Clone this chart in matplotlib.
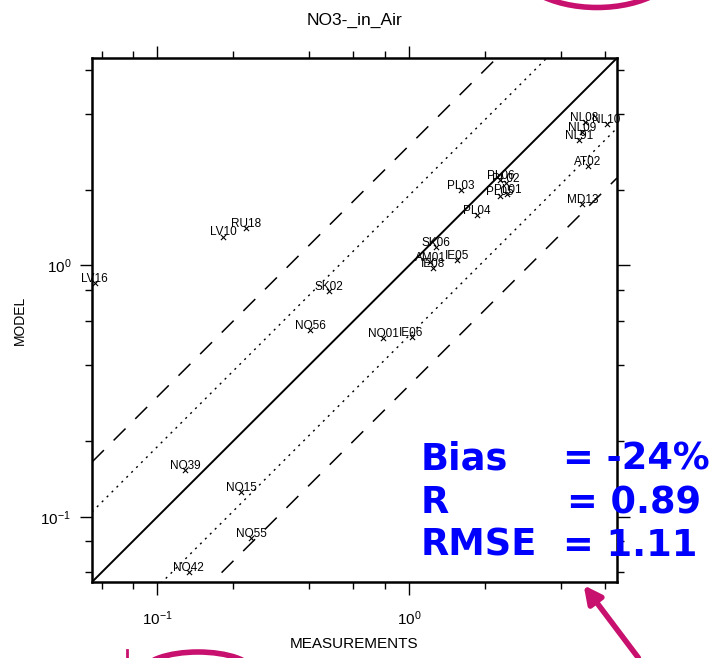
# NO3- in air: model vs measurements scatter (log-log) with factor lines
import numpy as np
import matplotlib.pyplot as plt
from matplotlib.patches import Arc, FancyArrowPatch
from matplotlib.ticker import LogLocator, NullFormatter

plt.rcParams["font.family"] = ["Liberation Sans", "DejaVu Sans"]
plt.rcParams["mathtext.fontset"] = "custom"
plt.rcParams["mathtext.rm"] = "Liberation Sans"

stations = ["LV16", "LV10", "RU18", "SK02", "NO56", "NO39", "NO15", "NO55",
            "NO42", "NO01", "IE06", "SK06", "IE05", "AM01", "IE08", "PL03",
            "PL04", "PL06", "PL02", "PL05", "PL01", "NL08", "NL10", "NL09",
            "NL91", "AT02", "MD13"]
measured = [0.0564, 0.182, 0.224, 0.478, 0.404, 0.129, 0.215, 0.236,
            0.133, 0.788, 1.02, 1.27, 1.55, 1.21, 1.24, 1.60,
            1.85, 2.30, 2.41, 2.28, 2.45, 4.96, 6.06, 4.86,
            4.71, 5.12, 4.86]
modelled = [0.848, 1.30, 1.41, 0.79, 0.552, 0.153, 0.1255, 0.082,
            0.0603, 0.513, 0.519, 1.18, 1.05, 1.03, 0.973, 1.99,
            1.58, 2.18, 2.12, 1.88, 1.92, 3.71, 3.64, 3.39,
            3.14, 2.47, 1.75]

stats_names = ["Bias", "R", "RMSE"]
stats_values = ["= -24%", "= 0.89", "= 1.11"]

vmin, vmax = 0.055, 6.67
factors = [1.0, 1.9, 3.0]

fig = plt.figure(figsize=(7.13, 6.58), dpi=100)
ax = fig.add_axes([92 / 713, 76 / 658, 525 / 713, 524 / 658])
ax.set_xscale("log")
ax.set_yscale("log")
ax.set_xlim(vmin, vmax)
ax.set_ylim(vmin, vmax)

# reference lines 1:1, factor ~2 (dotted) and factor 3 (dashed)
xl = np.array([vmin, vmax])
styles = {1.0: ("-", 1.4), 1.9: ((0, (1.5, 3.5)), 1.0), 3.0: ((0, (11, 9)), 1.1)}
for f in factors:
    ls, lw = styles[f]
    ax.plot(xl, xl * f, color="black", ls=ls, lw=lw)
    if f != 1.0:
        ax.plot(xl, xl / f, color="black", ls=ls, lw=lw)

ax.scatter(measured, modelled, marker="x", s=14, color="black", linewidths=0.8, zorder=3)
for name, xv, yv in zip(stations, measured, modelled):
    ax.annotate(name, (xv, yv), xytext=(0, 3), textcoords="offset points",
                ha="center", va="center", fontsize=8.5, zorder=4)

for a in (ax.xaxis, ax.yaxis):
    a.set_major_locator(LogLocator(base=10))
    a.set_minor_locator(LogLocator(base=10, subs=[2, 4, 6, 8]))
    a.set_minor_formatter(NullFormatter())
ax.tick_params(which="both", direction="out", top=True, right=True, width=1.0)
ax.tick_params(which="major", length=9, labelsize=11)
ax.tick_params(which="minor", length=5)
ax.tick_params(axis="x", which="major", pad=11)
ax.tick_params(axis="y", which="major", pad=6)
for s in ax.spines.values():
    s.set_linewidth(1.8)

ax.set_xlabel("MEASUREMENTS", fontsize=11, labelpad=6)
ax.set_ylabel("MODEL", fontsize=10, labelpad=10)
ax.set_title("NO3-_in_Air", fontsize=12.5, pad=24)

# overlay in pixel coordinates for statistics and annotations
ov = fig.add_axes([0, 0, 1, 1], facecolor="none")
ov.set_xlim(0, 713)
ov.set_ylim(658, 0)
ov.axis("off")

for i, (nm, val) in enumerate(zip(stats_names, stats_values)):
    y = 470 + i * 43
    ov.text(421, y, nm, color="blue", fontsize=26.5, fontweight="bold",
            family="DejaVu Sans", va="baseline")
    ov.text(563 if i != 1 else 567, y, val, color="blue", fontsize=26.5,
            fontweight="bold", family="DejaVu Sans", va="baseline")

# y axis of the overlay is inverted, so arc angles are mirrored
pink = "#c8106e"
ov.add_patch(Arc((597, -40), 170, 95, theta1=0, theta2=180, color=pink, lw=4))
ov.add_patch(Arc((198, 672), 110, 40, theta1=180, theta2=360, color=pink, lw=4))
ov.plot([127, 127], [650, 658], color=pink, lw=2)
ov.add_patch(FancyArrowPatch((640, 660), (582, 583), arrowstyle="-|>",
                             mutation_scale=26, color=pink, lw=4))

fig.savefig("out.png", dpi=100)
